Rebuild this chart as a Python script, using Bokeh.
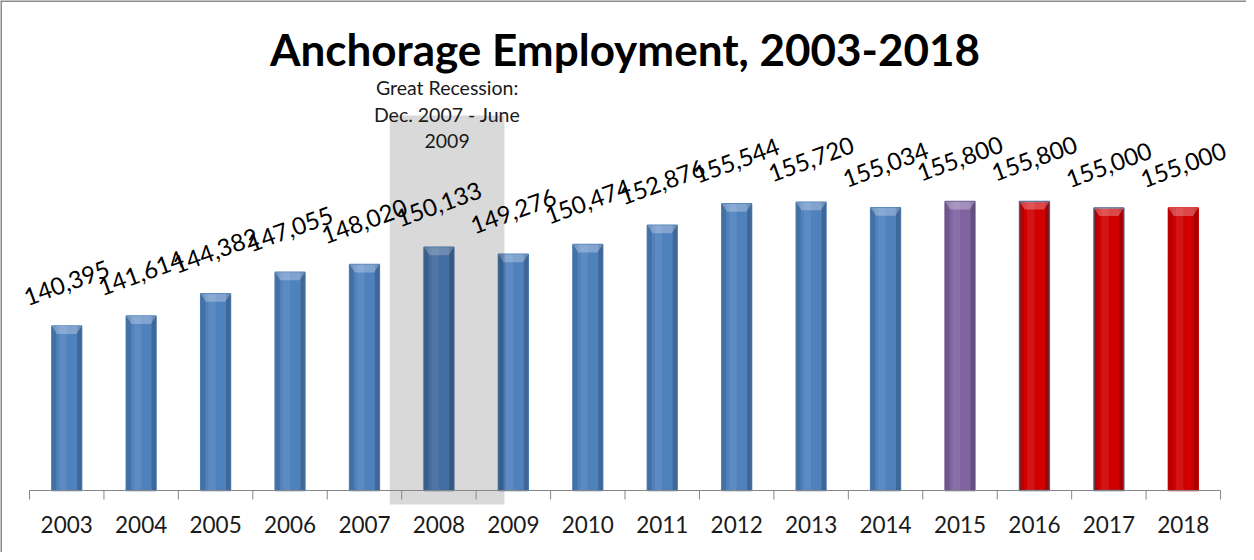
from bokeh.plotting import figure
from bokeh.models import Range1d, Span, ColumnDataSource
from bokeh.core.properties import value
from bokeh.embed import file_html
from bokeh.resources import INLINE

# ---------------- data ----------------
years = ["2003", "2004", "2005", "2006", "2007", "2008", "2009", "2010",
         "2011", "2012", "2013", "2014", "2015", "2016", "2017", "2018"]
employment = [140395, 141614, 144382, 147055, 148020, 150133, 149276, 150474,
              152876, 155544, 155720, 155034, 155800, 155800, 155000, 155000]
value_labels = ["140,395", "141,614", "144,382", "147,055", "148,020", "150,133",
                "149,276", "150,474", "152,876", "155,544", "155,720", "155,034",
                "155,800", "155,800", "155,000", "155,000"]
BLUE, PURPLE, RED = "#4F81BD", "#8064A2", "#D00000"
bar_colors = [BLUE] * 12 + [PURPLE, RED, RED, RED]
outline_colors = [BLUE] * 12 + ["#6F5A92", "#4E5F8C", "#4E5F8C", RED]
title_text = "Anchorage Employment, 2003-2018"
recession_lines = ["Great Recession:", "Dec. 2007 - June", "2009"]
recession_start = 2007.84   # fractional year, as drawn
recession_end = 2009.38
axis_min = 120000
first_year = 2003

# ---------------- layout ----------------
W, H = 1246, 552
px_per_cat = 74.44
px_per_unit = 0.00807
x_start = -29 / px_per_cat
x_end = x_start + W / px_per_cat
y_end = axis_min + 490 / px_per_unit
y_start = axis_min - 62 / px_per_unit

FONT = "Lato"

xc = [i + 0.5 for i in range(len(years))]
src = ColumnDataSource(dict(x=xc, year=years, v=employment, lab=value_labels,
                            fill=bar_colors, line=outline_colors))

p = figure(width=W, height=H, x_range=Range1d(x_start, x_end),
           y_range=Range1d(y_start, y_end), x_axis_type=None, y_axis_type=None,
           toolbar_location=None, output_backend="svg", min_border=0,
           outline_line_color=None, background_fill_color="white",
           border_fill_color="white")

# bars
p.vbar(x="x", top="v", bottom=axis_min, width=0.4, fill_color="fill",
       line_color="line", line_width=1.5, source=src)
# cylinder-like shading
p.vbar(x=[x - 0.17 for x in xc], top=employment, bottom=axis_min, width=0.06,
       fill_color="black", fill_alpha=0.13, line_color=None)
p.vbar(x=[x + 0.17 for x in xc], top=employment, bottom=axis_min, width=0.06,
       fill_color="black", fill_alpha=0.2, line_color=None)
p.vbar(x=[x - 0.05 for x in xc], top=employment, bottom=axis_min, width=0.1,
       fill_color="white", fill_alpha=0.08, line_color=None)
d = 8 / px_per_unit
p.patches(xs=[[x - 0.2, x + 0.2, x + 0.13, x - 0.13] for x in xc],
          ys=[[v, v, v - d, v - d] for v in employment],
          fill_color="white", fill_alpha=0.28, line_color=None)

# recession shading
p.quad(left=[recession_start - first_year], right=[recession_end - first_year],
       bottom=[axis_min - 14 / px_per_unit], top=[axis_min + 375 / px_per_unit],
       fill_color="black", fill_alpha=0.15, line_color=None)

# category axis (line + boundary ticks)
n = len(years)
p.segment(x0=[0], y0=[axis_min], x1=[n], y1=[axis_min], line_color="#868686", line_width=1)
p.segment(x0=list(range(n + 1)), y0=[axis_min] * (n + 1), x1=list(range(n + 1)),
          y1=[axis_min - 9 / px_per_unit] * (n + 1), line_color="#868686", line_width=1)

# year labels
p.text(x="x", y=axis_min, text="year", source=src, y_offset=34,
       text_align="center", text_baseline="middle", text_font=value(FONT),
       text_font_size="22.5px", text_color="#1a1a1a")

# value labels
p.text(x="x", y="v", text="lab", source=src, y_offset=-43, angle=0.349,
       text_align="center", text_baseline="alphabetic", text_font=value(FONT),
       text_font_size="24px", text_color="black")

# recession text
rc = (recession_start + recession_end) / 2 - first_year
p.text(x=[rc] * 3, y=[y_end] * 3, text=recession_lines, y_offset=[87, 114, 140],
       text_align="center", text_baseline="middle", text_font=value(FONT),
       text_font_size="19.5px", text_color="#1a1a1a")

# title
p.text(x=[n / 2], y=[y_end], text=[title_text], y_offset=48, text_align="center",
       text_baseline="alphabetic", text_font=value(FONT), text_font_size="44px",
       text_font_style="bold", text_color="black")

# outer frame lines (top, left)
p.add_layout(Span(location=x_start, dimension="height", line_color="#8a8a8a", line_width=3))
p.add_layout(Span(location=y_end, dimension="width", line_color="#8a8a8a", line_width=3))

open("out.html", "w").write(file_html(p, INLINE))
